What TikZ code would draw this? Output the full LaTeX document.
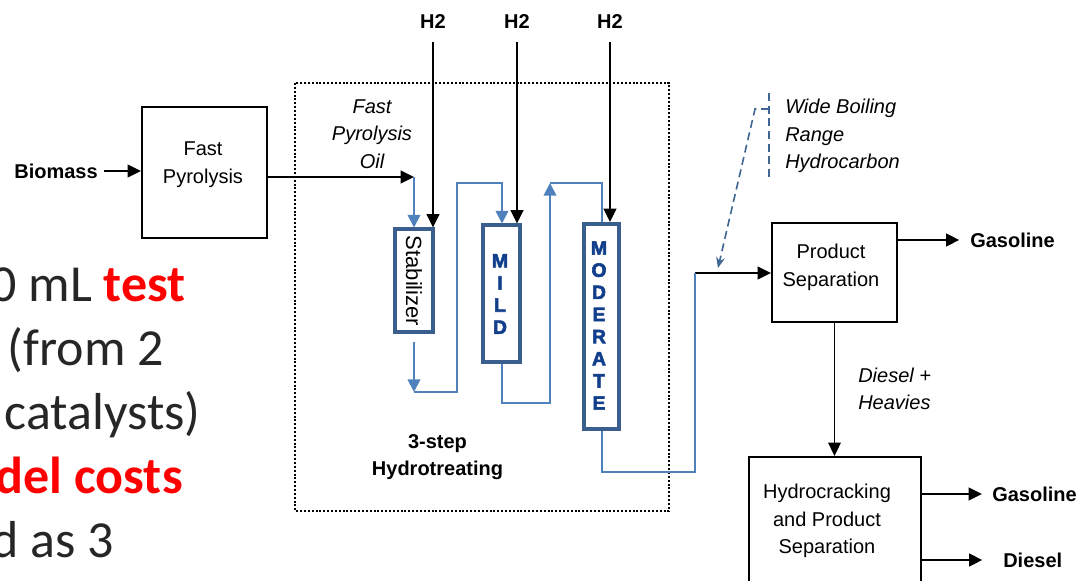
\documentclass[tikz,border=0pt]{standalone}
\usepackage{fontspec}
\setmainfont{Liberation Sans}
\newfontfamily\calib{Carlito}
\newfontfamily\heavyfont[FakeBold=3]{Liberation Sans Bold}
\usetikzlibrary{arrows.meta}
\definecolor{flow}{HTML}{4F81BD}
\definecolor{vessel}{HTML}{3A5F8F}
\definecolor{vtext}{HTML}{123F8C}
\definecolor{dashc}{HTML}{3F6592}
\definecolor{slide}{HTML}{262626}
\definecolor{hl}{HTML}{FF0000}
\begin{document}
\begin{tikzpicture}[x=0.75pt,y=-0.75pt,
  lbl/.style={font=\fontsize{15}{20.75}\selectfont, align=center, inner sep=0pt},
  blbl/.style={lbl, font=\fontsize{15}{20.75}\selectfont\bfseries},
  ilbl/.style={lbl, font=\fontsize{15}{20.75}\selectfont\itshape},
  box/.style={draw=black, line width=1.6pt, minimum width=#1},
  vesselbox/.style={draw=vessel, line width=3pt, fill=white},
  vlet/.style={inner sep=0pt, align=center, text=vtext, font=\fontsize{14.5}{16.6}\selectfont\heavyfont},
  blk/.style={line width=1.6pt, draw=black},
  blkarrow/.style={blk, -{Triangle[length=10pt,width=9.5pt]}},
  bl/.style={line width=1.4pt, draw=flow},
  blarrow/.style={bl, -{Triangle[length=9.5pt,width=9.5pt]}},
  dashline/.style={line width=1.2pt, draw=dashc, dash pattern=on 6pt off 3.5pt},
  region/.style={line width=1.6pt, dash pattern=on 1.5pt off 1.4pt},
  slidetxt/.style={inner sep=0pt, anchor=base east, text=slide, font=\fontsize{39}{48}\selectfont\calib}
]
\useasboundingbox (0,0) rectangle (1083,581);
\clip (0,0) rectangle (1083,581);

% slide text (cut off at left)
\node[slidetxt] (t1) at (186,302) {0 mL \textbf{\color{hl}test}};
\node[slidetxt] (t2) at (164,366) {(from 2};
\node[slidetxt] (t3) at (201,429) {catalysts)};
\node[slidetxt] (t4) at (183,493) {\textbf{\color{hl}del costs}};
\node[slidetxt] (t5) at (114,557) {d as 3};

% dotted region
\draw[region] (295,83) rectangle (669,511);

% boxes
\node[box, minimum width=125*0.75pt, minimum height=131*0.75pt] (fp) at (204.5,172.5) {};
\node[lbl] (fpt) at (203,165) {Fast\\Pyrolysis};
\node[box, minimum width=125*0.75pt, minimum height=99*0.75pt] (ps) at (834.5,272.5) {};
\node[lbl] (pst) at (831,267) {Product\\Separation};
\node[box, minimum width=172*0.75pt, minimum height=143*0.75pt] (hc) at (835,528.5) {};
\node[lbl] (hct) at (827,521) {Hydrocracking\\and Product\\Separation};

% vessels
\node[vesselbox, minimum width=38*0.75pt, minimum height=103*0.75pt] (stab) at (414,281) {};
\node[lbl, rotate=-90, font=\fontsize{16.5}{20}\selectfont] (stabt) at (414,281) {Stabilizer};
\node[vesselbox, minimum width=37*0.75pt, minimum height=137*0.75pt] (mild) at (501.5,294) {};
\node[vlet] (mildt) at (500,294) {M\\I\\L\\D};
\node[vesselbox, minimum width=35*0.75pt, minimum height=205*0.75pt] (mod) at (601.5,326.5) {};
\node[vlet] (modt) at (599,325.5) {M\\O\\D\\E\\R\\A\\T\\E};

% labels
\node[blbl, anchor=east] (bio) at (98,171) {Biomass};
\node[ilbl] (oilt) at (372,134) {Fast\\Pyrolysis\\Oil};
\node[blbl] (h1) at (433,22) {H2};
\node[blbl] (h2) at (517,22) {H2};
\node[blbl] (h3) at (610,22) {H2};
\node[blbl] (step) at (437.5,457) {3-step\\Hydrotreating};
\node[ilbl, align=left, anchor=west] (wide) at (785,136) {Wide Boiling\\Range\\Hydrocarbon};
\node[ilbl, align=left, anchor=west] (dh) at (858,389) {Diesel +\\Heavies};
\node[blbl, anchor=west] (g1) at (970,240) {Gasoline};
\node[blbl, anchor=west] (g2) at (992,494) {Gasoline};
\node[blbl, anchor=west] (ds) at (1003,560) {Diesel};

% coordinates for bends
\coordinate (oil) at (414,177);
\coordinate (s1) at (414,392);
\coordinate (s2) at (457,392);
\coordinate (s3) at (457,183);
\coordinate (s4) at (502,183);
\coordinate (m1) at (502,403);
\coordinate (m2) at (550,403);
\coordinate (m3) at (550,183);
\coordinate (m4) at (602,183);
\coordinate (d1) at (602,472);
\coordinate (d2) at (695,472);
\coordinate (d3) at (695,273);
\coordinate (wt) at (769,93);
\coordinate (wb) at (769,177);
\coordinate (wk) at (769,109);
\coordinate (wd) at (755,109);
\coordinate (wend) at (718,268);

% black connectors
\draw[blkarrow, shorten <=4.5pt] (bio.east) -- (fp.west |- bio.east);
\draw[blkarrow] (fp.east |- oil) -- (oil);
\draw[blkarrow, shorten <=9.5pt] (h1.south) -- (h1.south |- stab.north);
\draw[blkarrow, shorten <=9.5pt] (h2.south) -- (h2.south |- mild.north);
\draw[blkarrow, shorten <=9.5pt] (h3.south) -- (h3.south |- mod.north);
\draw[blkarrow] (d3) -- (d3 -| ps.west);
\draw[blkarrow, shorten >=8pt] (ps.east |- g1.west) -- (g1.west);
\draw[blkarrow, line width=1.1pt] (ps.south) -- (ps.south |- hc.north);
\draw[blkarrow, shorten >=7.5pt] (hc.east |- g2.west) -- (g2.west);
\draw[blkarrow, shorten >=15.5pt] (hc.east |- ds.west) -- (ds.west);

% blue flow connectors
\draw[blarrow] (oil) -- (oil |- stab.north);
\draw[blarrow, shorten <=6pt] (s1 |- stab.south) -- (s1);
\draw[blarrow] (s1) -- (s2) -- (s3) -- (s4) -- (s4 |- mild.north);
\draw[blarrow] (m1 |- mild.south) -- (m1) -- (m2) -- (m3);
\draw[bl] (m3) -- (m4) -- (m4 |- mod.north);
\draw[bl] (d1 |- mod.south) -- (d1) -- (d2) -- (d3);

% dashed bracket and connector
\draw[dashline] (wt) -- (wb);
\draw[dashline, -{Stealth[length=8pt,width=6.5pt]}] (wk) -- (wd) -- (wend);
\end{tikzpicture}
\end{document}
